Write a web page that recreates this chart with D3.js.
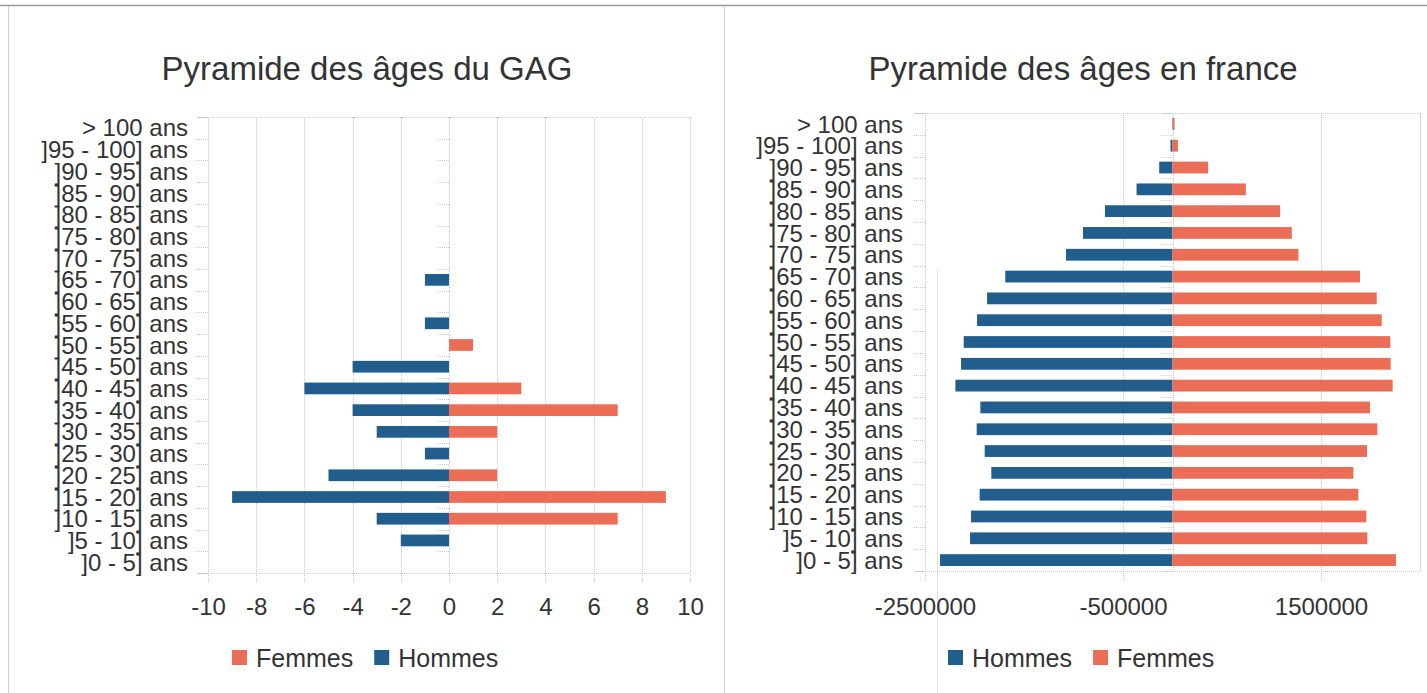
<!DOCTYPE html>
<html>
<head>
<meta charset="utf-8">
<script src="https://cdn.jsdelivr.net/npm/d3@7"></script>
<style>
    html, body { margin: 0; padding: 0; background: #fff; }
    svg { display: block; font-family: "Liberation Sans", Arial, sans-serif; }
</style>
</head>
<body>
<div id="chart"></div>
<script>
// age groups, top of the pyramid first
const ageGroups = [
    "> 100 ans", "]95 - 100] ans", "]90 - 95] ans", "]85 - 90] ans", "]80 - 85] ans",
    "]75 - 80] ans", "]70 - 75] ans", "]65 - 70] ans", "]60 - 65] ans", "]55 - 60] ans",
    "]50 - 55] ans", "]45 - 50] ans", "]40 - 45] ans", "]35 - 40] ans", "]30 - 35] ans",
    "]25 - 30] ans", "]20 - 25] ans", "]15 - 20] ans", "]10 - 15] ans", "]5 - 10] ans",
    "]0 - 5] ans"
];

// GAG counts (hommes stored negative, as in the sheet)
const gagHommes = [0, 0, 0, 0, 0, 0, 0, -1, 0, -1, 0, -4, -6, -4, -3, -1, -5, -9, -3, -2, 0];
const gagFemmes = [0, 0, 0, 0, 0, 0, 0, 0, 0, 0, 1, 0, 3, 7, 2, 0, 2, 9, 7, 0, 0];
const gagTicks = [-10, -8, -6, -4, -2, 0, 2, 4, 6, 8, 10];

// France population
const franceHommes = [
    -4000, -20000, -134000, -363000, -682000, -904000, -1076000, -1689000, -1873000, -1974000,
    -2109000, -2136000, -2193000, -1941000, -1978000, -1897000, -1830000, -1948000, -2035000,
    -2045000, -2348000
];
const franceFemmes = [
    21000, 55000, 360000, 741000, 1087000, 1205000, 1272000, 1894000, 2063000, 2113000,
    2200000, 2204000, 2224000, 1995000, 2069000, 1965000, 1827000, 1877000, 1958000,
    1968000, 2258000
];
const franceTicks = [-2500000, -500000, 1500000];

const colors = { hommes: "#215d8d", femmes: "#ec6d55", text: "#333", grid: "#c8c8c8" };

const W = 1427, H = 693;

const svg = d3.select("#chart")
    .append("svg")
    .attr("width", W)
    .attr("height", H);

// page frame
svg.append("line").attr("x1", 0).attr("x2", W).attr("y1", 5.5).attr("y2", 5.5)
    .attr("stroke", "#9a9a9a").attr("stroke-width", 1.5);
[8.5, 724.5].forEach(x => {
    svg.append("line").attr("x1", x).attr("x2", x).attr("y1", 6).attr("y2", H)
        .attr("stroke", "#cfcfcf");
});
svg.append("line").attr("x1", 937.5).attr("x2", 937.5).attr("y1", 268).attr("y2", H)
    .attr("stroke", "#e3e6ee");

function drawPyramid(cfg) {
    const g = svg.append("g");
    const { x0, x1, y0, y1 } = cfg.plot;

    const x = d3.scaleLinear().domain(cfg.domain).range([x0, x1]);
    const y = d3.scaleBand().domain(ageGroups).range([y0, y1])
        .paddingInner(0.46).paddingOuter(0.23);
    const gap = (y.step() - y.bandwidth()) / 2;

    // title
    g.append("text")
        .attr("x", cfg.titleX).attr("y", 80)
        .attr("text-anchor", "middle")
        .attr("font-size", 33)
        .attr("fill", colors.text)
        .text(cfg.title);

    // vertical grid lines
    g.selectAll("line.grid")
        .data(cfg.ticks)
        .enter().append("line")
        .attr("class", "grid")
        .attr("x1", d => Math.round(x(d)) + 0.5).attr("x2", d => Math.round(x(d)) + 0.5)
        .attr("y1", y0).attr("y2", y1 + 10)
        .attr("stroke", colors.grid)
        .attr("stroke-dasharray", "1,1");

    // top / bottom frame of the plot
    [y0, y1].forEach(yy => {
        g.append("line")
            .attr("x1", x0 - 10).attr("x2", x1)
            .attr("y1", yy + 0.5).attr("y2", yy + 0.5)
            .attr("stroke", colors.grid)
            .attr("stroke-dasharray", "1,1");
    });
    if (cfg.rightEdge) {
        g.append("line")
            .attr("x1", x1 + 0.5).attr("x2", x1 + 0.5).attr("y1", y0).attr("y2", y1)
            .attr("stroke", "#d6d6d6");
    }

    // zero axis
    g.append("line")
        .attr("x1", Math.round(x(0)) + 0.5).attr("x2", Math.round(x(0)) + 0.5)
        .attr("y1", y0).attr("y2", y1)
        .attr("stroke", colors.grid)
        .attr("stroke-dasharray", "1,1");

    // category tick marks, at the left edge and on the zero axis
    const bounds = ageGroups.map(d => y(d) - gap).concat([y1]);
    [x0, x(0)].forEach(xx => {
        g.selectAll(null)
            .data(bounds)
            .enter().append("line")
            .attr("x1", xx - 11).attr("x2", xx)
            .attr("y1", d => Math.round(d) + 0.5).attr("y2", d => Math.round(d) + 0.5)
            .attr("stroke", colors.grid)
            .attr("stroke-dasharray", "1,1");
    });

    // category labels
    g.selectAll("text.cat")
        .data(ageGroups)
        .enter().append("text")
        .attr("class", "cat")
        .attr("x", cfg.labelRight)
        .attr("y", d => y(d) + y.bandwidth() / 2)
        .attr("dy", "0.36em")
        .attr("text-anchor", "end")
        .attr("font-size", 24)
        .attr("fill", colors.text)
        .text(d => d);

    // bars
    const series = [
        { key: "hommes", values: cfg.hommes },
        { key: "femmes", values: cfg.femmes }
    ];
    series.forEach(s => {
        g.selectAll(null)
            .data(ageGroups.map((a, i) => ({ age: a, v: s.values[i] })).filter(d => d.v !== 0))
            .enter().append("rect")
            .attr("x", d => Math.min(x(d.v), x(0)))
            .attr("width", d => Math.abs(x(d.v) - x(0)))
            .attr("y", d => y(d.age))
            .attr("height", y.bandwidth())
            .attr("fill", colors[s.key]);
    });

    // x axis (plain hyphen as minus sign, like the sheet)
    const axis = d3.axisBottom(x)
        .tickValues(cfg.ticks)
        .tickSize(0)
        .tickPadding(0)
        .tickFormat(d => String(d));
    const ax = g.append("g")
        .attr("transform", `translate(0,${615})`)
        .call(axis);
    ax.select(".domain").remove();
    ax.selectAll("text")
        .attr("dy", 0)
        .attr("y", 0)
        .attr("font-size", 24)
        .attr("font-family", "Liberation Sans, Arial, sans-serif")
        .attr("fill", colors.text);

    // legend
    let lx = cfg.legendX;
    cfg.legend.forEach(key => {
        g.append("rect")
            .attr("x", lx).attr("y", 650)
            .attr("width", 15).attr("height", 15)
            .attr("fill", colors[key]);
        const t = g.append("text")
            .attr("x", lx + 24).attr("y", 667)
            .attr("font-size", 25)
            .attr("fill", colors.text)
            .text(key === "hommes" ? "Hommes" : "Femmes");
        lx += 24 + t.node().getComputedTextLength() + 21;
    });
}

drawPyramid({
    title: "Pyramide des âges du GAG",
    titleX: 367,
    plot: { x0: 208, x1: 690, y0: 117, y1: 573 },
    domain: [-10, 10],
    ticks: gagTicks,
    hommes: gagHommes,
    femmes: gagFemmes,
    labelRight: 188,
    legendX: 232,
    legend: ["femmes", "hommes"],
    rightEdge: false
});

drawPyramid({
    title: "Pyramide des âges en france",
    titleX: 1083,
    plot: { x0: 925, x1: 1420, y0: 113, y1: 571 },
    domain: [-2500000, 2500000],
    ticks: franceTicks,
    hommes: franceHommes,
    femmes: franceFemmes,
    labelRight: 903,
    legendX: 948,
    legend: ["hommes", "femmes"],
    rightEdge: true
});
</script>
</body>
</html>
